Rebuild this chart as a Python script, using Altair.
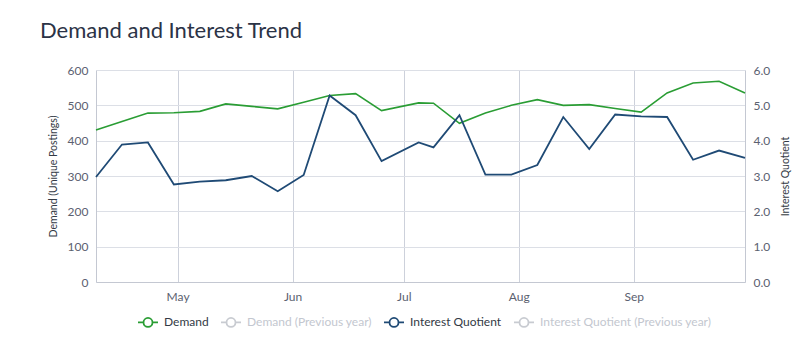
import altair as alt
import pandas as pd

dates = ["2023-04-09", "2023-04-16", "2023-04-23", "2023-04-30", "2023-05-07",
         "2023-05-14", "2023-05-21", "2023-05-28", "2023-06-04", "2023-06-11",
         "2023-06-18", "2023-06-25", "2023-07-05", "2023-07-09", "2023-07-16",
         "2023-07-23", "2023-07-30", "2023-08-06", "2023-08-13", "2023-08-20",
         "2023-08-27", "2023-09-03", "2023-09-10", "2023-09-17", "2023-09-24",
         "2023-10-01"]

demand = [430, 454, 478, 479, 483, 504, 497, 490, 509, 528, 533, 485, 507,
          506, 449, 478, 500, 516, 500, 502, 491, 481, 535, 563, 568, 535]

interest = [2.97, 3.89, 3.95, 2.76, 2.84, 2.88, 3.00, 2.57, 3.03, 5.28, 4.72,
            3.42, 3.95, 3.81, 4.72, 3.04, 3.04, 3.31, 4.67, 3.76, 4.74, 4.69,
            4.67, 3.46, 3.72, 3.51]

series_names = ["Demand", "Demand (Previous year)", "Interest Quotient",
                "Interest Quotient (Previous year)"]
series_colors = ["#2a9d34", "#c8cbd1", "#1f4a75", "#c8cbd1"]

left_ticks = [0, 100, 200, 300, 400, 500, 600]
right_ticks = [0, 1, 2, 3, 4, 5, 6]
month_ticks = [alt.DateTime(year=2023, month=m, date=1, utc=True) for m in [5, 6, 7, 8, 9]]

rows = []
for d, v in zip(dates, demand):
    rows.append({"date": d, "value": v, "series": "Demand"})
for d, v in zip(dates, interest):
    rows.append({"date": d, "value": v, "series": "Interest Quotient"})
df = pd.DataFrame(rows)

FONT = "Lato"
LABEL = "#5b6170"
GRID = "#dcdfe6"
DOMAIN = "#c4c8d2"

x_enc = alt.X(
    "date:T",
    scale=alt.Scale(type="utc",
                    domain=[alt.DateTime(year=2023, month=4, date=9, utc=True),
                            alt.DateTime(year=2023, month=10, date=1, utc=True)]),
    axis=alt.Axis(title=None, values=month_ticks, format="%b", grid=True,
                  gridColor="#cdd1db", ticks=False, labelPadding=9,
                  domainColor=DOMAIN, labelColor=LABEL, labelFontSize=12,
                  labelFont=FONT),
)

symbol_path = ("M-1,0L-0.45,0M0.45,0L1,0M-0.45,0A0.45,0.45 0 1 1 0.45,0"
               "A0.45,0.45 0 1 1 -0.45,0")

color_enc = alt.Color(
    "series:N",
    scale=alt.Scale(domain=series_names, range=series_colors),
    legend=alt.Legend(
        orient="none", legendX=41, legendY=241,
        direction="horizontal", title=None,
        symbolType=symbol_path, symbolSize=400, symbolStrokeWidth=1.8,
        symbolFillColor="white", labelFont=FONT, labelFontSize=12,
        labelLimit=300,
        labelColor={"expr": "indexof(datum.label, 'Previous') >= 0 ? '#c3c7cf' : '#333a45'"},
        labelOffset=5, columnPadding=8,
    ),
)

base = alt.Chart(df)

demand_line = base.transform_filter(alt.datum.series == "Demand").mark_line(
    strokeWidth=1.6
).encode(
    x=x_enc,
    y=alt.Y("value:Q", scale=alt.Scale(domain=[0, 600]),
            axis=alt.Axis(title="Demand (Unique Postings)", values=left_ticks,
                          grid=True, gridColor=GRID, ticks=False, labelPadding=8,
                          domainColor=DOMAIN, labelColor=LABEL, labelFontSize=12,
                          labelFont=FONT, titleFont=FONT, titleFontSize=10.5,
                          titleFontWeight="normal", titleColor="#333a45",
                          titlePadding=9)),
    color=color_enc,
)

iq_line = base.transform_filter(alt.datum.series == "Interest Quotient").mark_line(
    strokeWidth=1.8
).encode(
    x=x_enc,
    y=alt.Y("value:Q", scale=alt.Scale(domain=[0, 6]),
            axis=alt.Axis(title="Interest Quotient", orient="right",
                          values=right_ticks, format=".1f", grid=False,
                          ticks=False, labelPadding=8, domainColor=DOMAIN,
                          labelColor=LABEL, labelFontSize=12, labelFont=FONT,
                          titleFont=FONT, titleFontSize=10.5,
                          titleFontWeight="normal", titleColor="#333a45",
                          titlePadding=11, titleAngle=270, titleBaseline="top")),
    color=color_enc,
)

chart = alt.layer(demand_line, iq_line).resolve_scale(y="independent").properties(
    width=649, height=212,
    autosize="none",
    padding={"left": 88, "top": 62, "right": 47, "bottom": 65},
    title=alt.Title("Demand and Interest Trend", anchor="start", frame="group",
                    dx=-56, offset=21, fontSize=22, font=FONT,
                    fontWeight="normal", color="#2b3346"),
).configure_view(stroke=None)

chart.save("out.html", embed_options={"renderer": "svg", "actions": False})
